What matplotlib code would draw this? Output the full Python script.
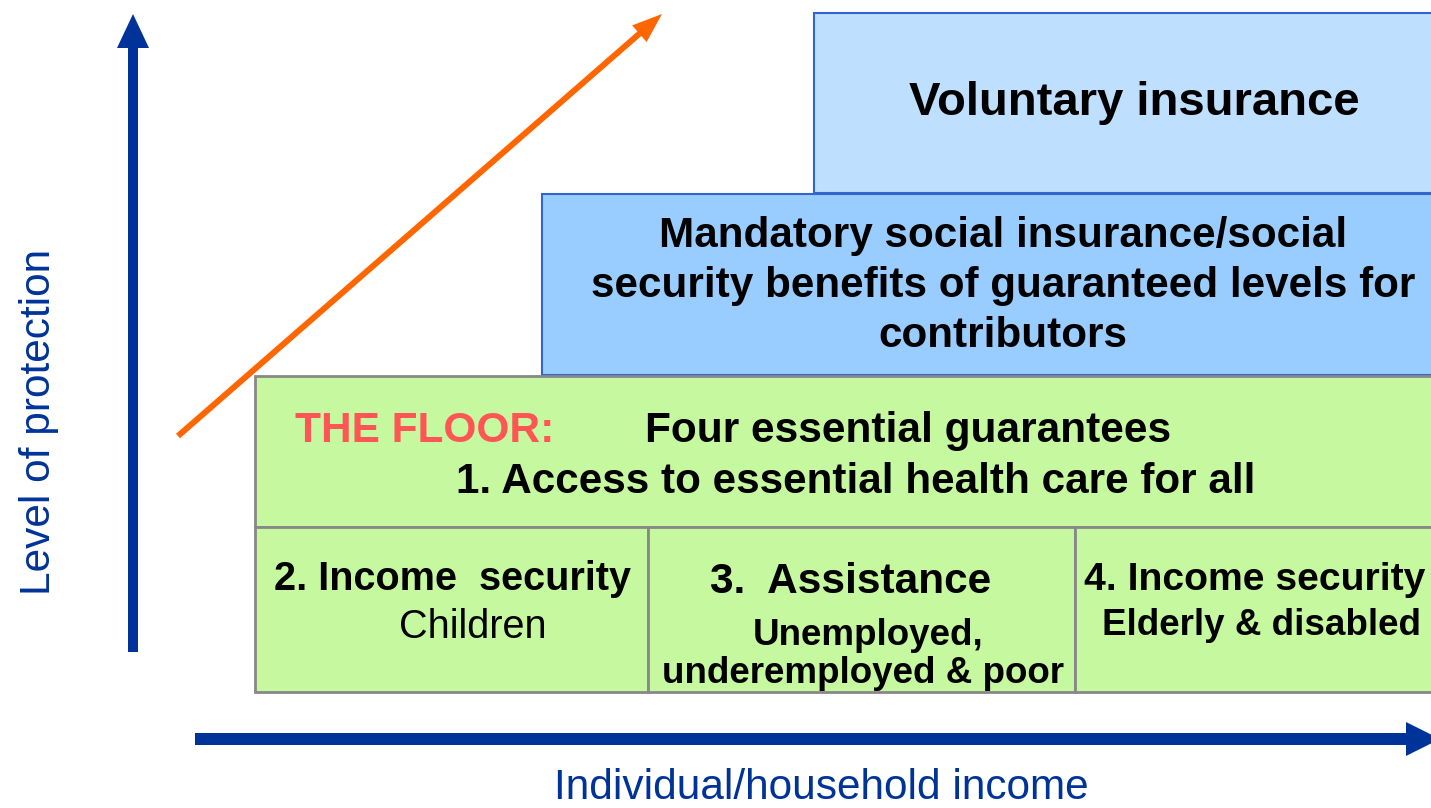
import matplotlib
matplotlib.use("Agg")
import matplotlib.pyplot as plt
from matplotlib.patches import Rectangle, FancyArrow

plt.rcParams['font.family'] = ['Liberation Sans', 'DejaVu Sans']

# ---- content ----
voluntary_label = "Voluntary insurance"
mandatory_lines = ["Mandatory social insurance/social",
                   "security benefits of guaranteed levels for",
                   "contributors"]
floor_tag = "THE FLOOR:"
floor_title = "Four essential guarantees"
floor_item1 = "1. Access to essential health care for all"
cell_titles = ["2. Income  security", "3.  Assistance", "4. Income security"]
cell_subs = [["Children"], ["Unemployed,", "underemployed & poor"], ["Elderly & disabled"]]
x_label = "Individual/household income"
y_label = "Level of protection"

# ---- colours ----
c_vol = "#BFDFFF"
c_mand = "#99CCFF"
c_floor = "#C6F8A0"
c_blue_edge = "#3366CC"
c_gray_edge = "#888888"
c_axis = "#003399"
c_orange = "#FF6600"
c_red = "#FF5555"

W, H = 1431, 808
fig = plt.figure(figsize=(W / 100, H / 100), dpi=100)
ax = fig.add_axes([0, 0, 1, 1])
ax.set_xlim(0, W)
ax.set_ylim(H, 0)
ax.axis('off')

# boxes (pixel coordinates, y down)
ax.add_patch(Rectangle((814, 13), 700, 180, facecolor=c_vol, edgecolor=c_blue_edge, lw=1.5))
ax.add_patch(Rectangle((542, 194), 1000, 181, facecolor=c_mand, edgecolor=c_blue_edge, lw=1.5))
ax.add_patch(Rectangle((255, 376), 1300, 151, facecolor=c_floor, edgecolor=c_gray_edge, lw=2))
cell_x = [255, 648, 1075, 1555]
for i in range(3):
    ax.add_patch(Rectangle((cell_x[i], 527), cell_x[i + 1] - cell_x[i], 165,
                           facecolor=c_floor, edgecolor=c_gray_edge, lw=2))

# arrows
ax.add_patch(FancyArrow(133, 652, 0, -638, width=10, head_width=32, head_length=34,
                        length_includes_head=True, color=c_axis, lw=0))
ax.add_patch(FancyArrow(195, 739, 1245, 0, width=12, head_width=34, head_length=34,
                        length_includes_head=True, color=c_axis, lw=0))
ax.add_patch(FancyArrow(178, 436, 484, -422, width=6, head_width=22, head_length=30,
                        length_includes_head=True, color=c_orange, lw=0))

# texts
ax.text(1134, 115, voluntary_label, ha='center', va='baseline', fontsize=34, fontweight='bold')
for k, line in enumerate(mandatory_lines):
    ax.text(1003, 247 + 50 * k, line, ha='center', va='baseline', fontsize=30.4, fontweight='bold')
ax.text(295, 442, floor_tag, ha='left', va='baseline', fontsize=30.5, fontweight='bold', color=c_red)
ax.text(645, 442, floor_title, ha='left', va='baseline', fontsize=30.5, fontweight='bold')
ax.text(856, 493, floor_item1, ha='center', va='baseline', fontsize=30.4, fontweight='bold')

ax.text(453, 590, cell_titles[0], ha='center', va='baseline', fontsize=28.5, fontweight='bold')
ax.text(473, 638, cell_subs[0][0], ha='center', va='baseline', fontsize=28.5)
ax.text(851, 593, cell_titles[1], ha='center', va='baseline', fontsize=30.5, fontweight='bold')
ax.text(868, 645, cell_subs[1][0], ha='center', va='baseline', fontsize=26.5, fontweight='bold')
ax.text(863, 683, cell_subs[1][1], ha='center', va='baseline', fontsize=26.5, fontweight='bold')
ax.text(1255, 590, cell_titles[2], ha='center', va='baseline', fontsize=28.2, fontweight='bold')
ax.text(1262, 635, cell_subs[2][0], ha='center', va='baseline', fontsize=26.5, fontweight='bold')

ax.text(821, 799, x_label, ha='center', va='baseline', fontsize=30.5, color=c_axis)
ax.text(50, 422, y_label, ha='center', va='baseline', rotation=90, fontsize=30.5,
        color=c_axis, rotation_mode='anchor')

fig.savefig("out.png", dpi=100)
